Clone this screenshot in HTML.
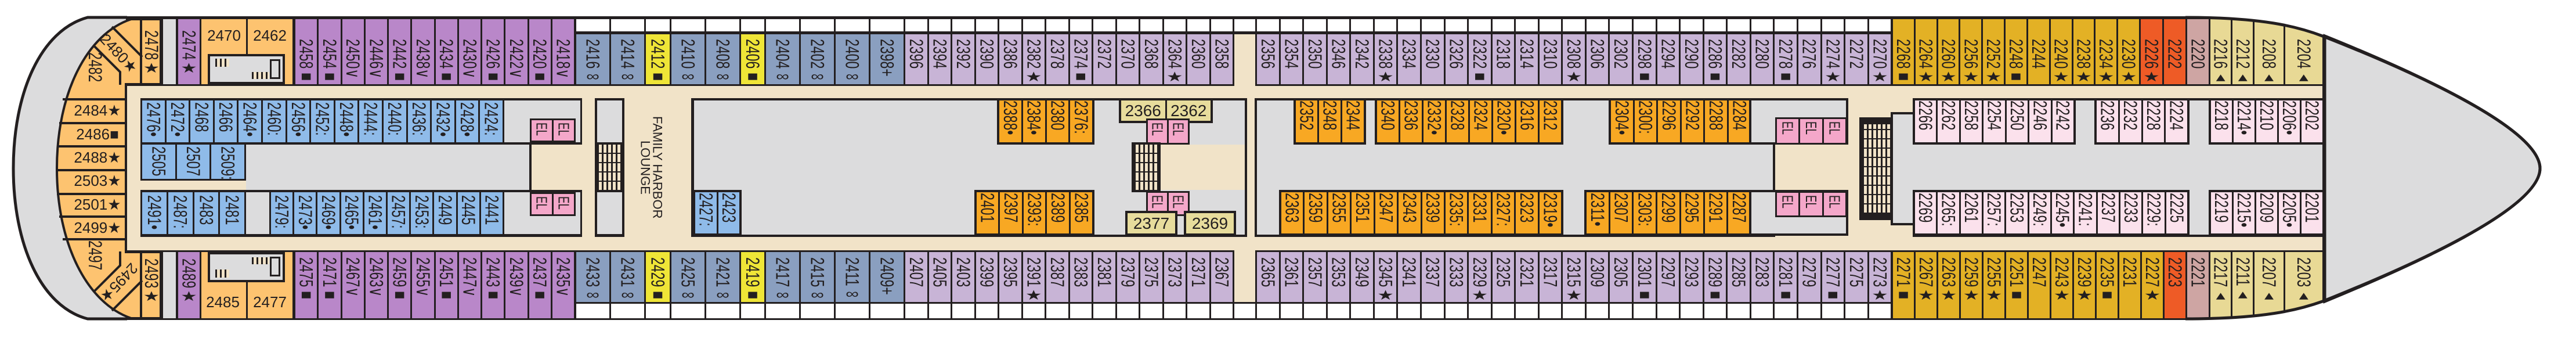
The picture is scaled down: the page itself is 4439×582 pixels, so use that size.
<!DOCTYPE html>
<html><head><meta charset="utf-8"><style>
body{margin:0;width:4439px;height:582px;position:relative;overflow:hidden;background:#fff;font-family:"Liberation Sans","DejaVu Sans",sans-serif;color:#231f20}
.a{position:absolute}
.g{position:absolute;display:flex;gap:3px;box-sizing:border-box;background:#231f20}
.bd{border:4px solid #231f20}
.bd3{border:3px solid #231f20}
.g>i{flex:1;font-style:normal;display:flex;justify-content:center;overflow:hidden;min-width:0}
.g>i>b,.vl>b{writing-mode:vertical-rl;font-weight:400;font-size:32px;line-height:1;margin-top:var(--m,8px);transform:scaleY(.72);transform-origin:top;white-space:nowrap}
.g>i.h{align-items:center;font-size:28px}
.vl{position:absolute;display:flex;justify-content:center}
.hl{position:absolute;font-size:26px;line-height:26px;white-space:nowrap;transform:translate(-50%,-50%)}
.el>i>b{font-size:26px;--m:4px}
.pu>i{background:#b987c9}.bg>i{background:#8a9fc0}.lb>i{background:#8fbbe9}.lv>i{background:#c8b4d6}
.ye>i{background:#efe537}.or>i{background:#f8a823}.go>i{background:#e3b125}.re>i{background:#ee5b26}
.mv>i{background:#cea5a3}.py>i{background:#e8d995}.pk>i{background:#fbe1ec}.el>i{background:#f4a7c9}
.kh>i{background:#e7dc9c}.wh>i{background:#fff}
.be{background:#f1e3c8}.gr{background:#dcdcdd}.bk{background:#231f20}.ao{background:#fdc370}
.st{background:repeating-linear-gradient(0deg,transparent 0 14px,#231f20 14px 16px),repeating-linear-gradient(90deg,#231f20 0 3px,#f1e3c8 3px 8px)}
</style></head><body>
<div class="a bk" style="left:217px;top:28px;width:3791px;height:523px"></div>
<div class="a be" style="left:217px;top:148px;width:3785px;height:21px"></div>
<div class="a be" style="left:217px;top:408px;width:3785px;height:23px"></div>

<div class="a gr" style="left:281px;top:33px;width:22px;height:112px"></div>
<div class="a gr" style="left:281px;top:434px;width:22px;height:114px"></div>
<div class="g pu" style="left:307px;top:33px;width:37px;height:112px;--m:19px"><i><b>2474★</b></i></div>
<div class="g pu" style="left:307px;top:434px;width:37px;height:114px;--m:11px"><i><b>2489★</b></i></div>
<div class="a ao" style="left:347px;top:33px;width:77px;height:112px"></div>
<div class="a ao" style="left:427px;top:33px;width:77px;height:112px"></div>
<div class="a ao" style="left:347px;top:434px;width:77px;height:114px"></div>
<div class="a ao" style="left:427px;top:434px;width:77px;height:114px"></div>
<div class="hl" style="left:386px;top:61px">2470</div>
<div class="hl" style="left:465px;top:61px">2462</div>
<div class="hl" style="left:384px;top:520px">2485</div>
<div class="hl" style="left:465px;top:520px">2477</div>
<div class="a gr" style="left:358px;top:93px;width:133px;height:52px;box-sizing:border-box;border:4px solid #231f20"></div>
<div class="a st" style="left:371px;top:101px;width:24px;height:14px"></div>
<div class="a" style="left:465px;top:102px;width:18px;height:34px;box-sizing:border-box;border:3px solid #231f20"></div>
<div class="a st" style="left:434px;top:124px;width:30px;height:12px"></div>
<div class="a gr" style="left:358px;top:434px;width:133px;height:52px;box-sizing:border-box;border:4px solid #231f20"></div>
<div class="a st" style="left:371px;top:464px;width:24px;height:14px"></div>
<div class="a" style="left:465px;top:442px;width:18px;height:34px;box-sizing:border-box;border:3px solid #231f20"></div>
<div class="a st" style="left:434px;top:443px;width:30px;height:12px"></div>

<div class="g pu" style="left:509px;top:33px;width:480px;height:112px;--m:34px"><i><b>2458■</b></i><i><b>2454■</b></i><i><b>2450∨</b></i><i><b>2446∨</b></i><i><b>2442■</b></i><i><b>2438∨</b></i><i><b>2434■</b></i><i><b>2430∨</b></i><i><b>2426■</b></i><i><b>2422∨</b></i><i><b>2420■</b></i><i><b>2418∨</b></i></div>
<div class="g pu" style="left:509px;top:434px;width:480px;height:114px;--m:9px"><i><b>2475■</b></i><i><b>2471■</b></i><i><b>2467∨</b></i><i><b>2463∨</b></i><i><b>2459■</b></i><i><b>2455∨</b></i><i><b>2451■</b></i><i><b>2447∨</b></i><i><b>2443■</b></i><i><b>2439∨</b></i><i><b>2437■</b></i><i><b>2435∨</b></i></div>

<div class="g wh" style="left:993px;top:33px;width:117px;height:21px"><i></i><i></i></div>
<div class="g wh" style="left:1113px;top:33px;width:41px;height:21px"><i></i></div>
<div class="g wh" style="left:1157px;top:33px;width:117px;height:21px"><i></i><i></i></div>
<div class="g wh" style="left:1277px;top:33px;width:40px;height:21px"><i></i></div>
<div class="g wh" style="left:1320px;top:33px;width:237px;height:21px"><i></i><i></i><i></i><i></i></div>
<div class="g wh" style="left:1560px;top:33px;width:564px;height:21px"><i></i><i></i><i></i><i></i><i></i><i></i><i></i><i></i><i></i><i></i><i></i><i></i><i></i><i></i></div>
<div class="g wh" style="left:2127px;top:33px;width:36px;height:21px"><i></i></div>
<div class="g wh" style="left:2166px;top:33px;width:1092px;height:21px"><i></i><i></i><i></i><i></i><i></i><i></i><i></i><i></i><i></i><i></i><i></i><i></i><i></i><i></i><i></i><i></i><i></i><i></i><i></i><i></i><i></i><i></i><i></i><i></i><i></i><i></i><i></i></div>
<div class="g wh" style="left:993px;top:523px;width:117px;height:25px"><i></i><i></i></div>
<div class="g wh" style="left:1113px;top:523px;width:41px;height:25px"><i></i></div>
<div class="g wh" style="left:1157px;top:523px;width:117px;height:25px"><i></i><i></i></div>
<div class="g wh" style="left:1277px;top:523px;width:40px;height:25px"><i></i></div>
<div class="g wh" style="left:1320px;top:523px;width:237px;height:25px"><i></i><i></i><i></i><i></i></div>
<div class="g wh" style="left:1560px;top:523px;width:564px;height:25px"><i></i><i></i><i></i><i></i><i></i><i></i><i></i><i></i><i></i><i></i><i></i><i></i><i></i><i></i></div>
<div class="g wh" style="left:2127px;top:523px;width:36px;height:25px"><i></i></div>
<div class="g wh" style="left:2166px;top:523px;width:1092px;height:25px"><i></i><i></i><i></i><i></i><i></i><i></i><i></i><i></i><i></i><i></i><i></i><i></i><i></i><i></i><i></i><i></i><i></i><i></i><i></i><i></i><i></i><i></i><i></i><i></i><i></i><i></i><i></i></div>

<div class="g bg" style="left:993px;top:59px;width:117px;height:86px"><i><b>2416∞</b></i><i><b>2414∞</b></i></div>
<div class="g ye" style="left:1113px;top:59px;width:41px;height:86px"><i><b>2412■</b></i></div>
<div class="g bg" style="left:1157px;top:59px;width:117px;height:86px"><i><b>2410∞</b></i><i><b>2408∞</b></i></div>
<div class="g ye" style="left:1277px;top:59px;width:40px;height:86px"><i><b>2406■</b></i></div>
<div class="g bg" style="left:1320px;top:59px;width:237px;height:86px"><i><b>2404∞</b></i><i><b>2402∞</b></i><i><b>2400∞</b></i><i><b>2398+</b></i></div>
<div class="g lv" style="left:1560px;top:59px;width:564px;height:86px"><i><b>2396</b></i><i><b>2394</b></i><i><b>2392</b></i><i><b>2390</b></i><i><b>2386</b></i><i><b>2382★</b></i><i><b>2378</b></i><i><b>2374■</b></i><i><b>2372</b></i><i><b>2370</b></i><i><b>2368</b></i><i><b>2364★</b></i><i><b>2360</b></i><i><b>2358</b></i></div>
<div class="a be" style="left:2127px;top:59px;width:36px;height:89px"></div>
<div class="g lv" style="left:2166px;top:59px;width:1092px;height:86px"><i><b>2356</b></i><i><b>2354</b></i><i><b>2350</b></i><i><b>2346</b></i><i><b>2342</b></i><i><b>2338★</b></i><i><b>2334</b></i><i><b>2330</b></i><i><b>2326</b></i><i><b>2322■</b></i><i><b>2318</b></i><i><b>2314</b></i><i><b>2310</b></i><i><b>2308★</b></i><i><b>2306</b></i><i><b>2302</b></i><i><b>2298■</b></i><i><b>2294</b></i><i><b>2290</b></i><i><b>2286■</b></i><i><b>2282</b></i><i><b>2280</b></i><i><b>2278■</b></i><i><b>2276</b></i><i><b>2274★</b></i><i><b>2272</b></i><i><b>2270★</b></i></div>

<div class="g bg" style="left:993px;top:434px;width:117px;height:86px;--m:9px"><i><b>2433∞</b></i><i><b>2431∞</b></i></div>
<div class="g ye" style="left:1113px;top:434px;width:41px;height:86px;--m:9px"><i><b>2429■</b></i></div>
<div class="g bg" style="left:1157px;top:434px;width:117px;height:86px;--m:9px"><i><b>2425∞</b></i><i><b>2421∞</b></i></div>
<div class="g ye" style="left:1277px;top:434px;width:40px;height:86px;--m:9px"><i><b>2419■</b></i></div>
<div class="g bg" style="left:1320px;top:434px;width:237px;height:86px;--m:9px"><i><b>2417∞</b></i><i><b>2415∞</b></i><i><b>2411∞</b></i><i><b>2409+</b></i></div>
<div class="g lv" style="left:1560px;top:434px;width:564px;height:86px;--m:9px"><i><b>2407</b></i><i><b>2405</b></i><i><b>2403</b></i><i><b>2399</b></i><i><b>2395</b></i><i><b>2391★</b></i><i><b>2387</b></i><i><b>2383</b></i><i><b>2381</b></i><i><b>2379</b></i><i><b>2375</b></i><i><b>2373</b></i><i><b>2371</b></i><i><b>2367</b></i></div>
<div class="a be" style="left:2127px;top:431px;width:36px;height:89px"></div>
<div class="g lv" style="left:2166px;top:434px;width:1092px;height:86px;--m:9px"><i><b>2365</b></i><i><b>2361</b></i><i><b>2357</b></i><i><b>2353</b></i><i><b>2349</b></i><i><b>2345★</b></i><i><b>2341</b></i><i><b>2337</b></i><i><b>2333</b></i><i><b>2329★</b></i><i><b>2325</b></i><i><b>2321</b></i><i><b>2317</b></i><i><b>2315★</b></i><i><b>2309</b></i><i><b>2305</b></i><i><b>2301■</b></i><i><b>2297</b></i><i><b>2293</b></i><i><b>2289■</b></i><i><b>2285</b></i><i><b>2283</b></i><i><b>2281■</b></i><i><b>2279</b></i><i><b>2277■</b></i><i><b>2275</b></i><i><b>2273★</b></i></div>

<div class="g go" style="left:3262px;top:33px;width:424px;height:112px;--m:34px"><i><b>2268■</b></i><i><b>2264★</b></i><i><b>2260★</b></i><i><b>2256★</b></i><i><b>2252★</b></i><i><b>2248■</b></i><i><b>2244</b></i><i><b>2240★</b></i><i><b>2238★</b></i><i><b>2234★</b></i><i><b>2230★</b></i></div>
<div class="g re" style="left:3689px;top:33px;width:77px;height:112px;--m:34px"><i><b>2226★</b></i><i><b>2222</b></i></div>
<div class="g mv" style="left:3769px;top:33px;width:37px;height:112px;--m:34px"><i><b>2220</b></i></div>
<div class="g py" style="left:3809px;top:33px;width:193px;height:112px;--m:34px"><i style="flex:35"><b>2216▴</b></i><i style="flex:35"><b>2212▴</b></i><i style="flex:49"><b>2208▴</b></i><i style="flex:64"><b>2204▴</b></i></div>
<div class="g go" style="left:3262px;top:434px;width:465px;height:114px;--m:9px"><i><b>2271■</b></i><i><b>2267★</b></i><i><b>2263★</b></i><i><b>2259★</b></i><i><b>2255★</b></i><i><b>2251■</b></i><i><b>2247</b></i><i><b>2243★</b></i><i><b>2239★</b></i><i><b>2235■</b></i><i><b>2231</b></i><i><b>2227★</b></i></div>
<div class="g re" style="left:3730px;top:434px;width:36px;height:114px;--m:9px"><i><b>2223</b></i></div>
<div class="g mv" style="left:3769px;top:434px;width:37px;height:114px;--m:9px"><i><b>2221</b></i></div>
<div class="g py" style="left:3809px;top:434px;width:193px;height:114px;--m:9px"><i style="flex:35"><b>2217▴</b></i><i style="flex:35"><b>2211▴</b></i><i style="flex:49"><b>2207▴</b></i><i style="flex:64"><b>2203▴</b></i></div>

<div class="a be" style="left:217px;top:169px;width:25px;height:239px"></div>
<div class="g lb" style="left:245px;top:173px;width:621px;height:72px;--m:3px"><i><b>2476•</b></i><i><b>2472•</b></i><i><b>2468</b></i><i><b>2466</b></i><i><b>2464•</b></i><i><b>2460:</b></i><i><b>2456•</b></i><i><b>2452:</b></i><i><b>2448•</b></i><i><b>2444:</b></i><i><b>2440:</b></i><i><b>2436:</b></i><i><b>2432•</b></i><i><b>2428•</b></i><i><b>2424:</b></i></div>
<div class="a gr" style="left:869px;top:173px;width:131px;height:72px"></div>
<div class="g el bd3" style="left:913px;top:204px;width:79px;height:41px"><i><b>EL</b></i><i><b>EL</b></i></div>
<div class="g lb" style="left:245px;top:249px;width:176px;height:59px;--m:3px"><i><b>2505</b></i><i><b>2507</b></i><i><b>2509:</b></i></div>
<div class="a be" style="left:242px;top:311px;width:182px;height:16px"></div>
<div class="a gr" style="left:424px;top:249px;width:488px;height:78px"></div>
<div class="a be" style="left:916px;top:249px;width:109px;height:78px"></div>
<div class="g lb" style="left:245px;top:331px;width:176px;height:72px;--m:5px"><i><b>2491•</b></i><i><b>2487:</b></i><i><b>2483</b></i><i><b>2481</b></i></div>
<div class="a gr" style="left:424px;top:331px;width:40px;height:72px"></div>
<div class="g lb" style="left:467px;top:331px;width:399px;height:72px;--m:5px"><i><b>2479:</b></i><i><b>2473•</b></i><i><b>2469•</b></i><i><b>2465•</b></i><i><b>2461•</b></i><i><b>2457:</b></i><i><b>2453:</b></i><i><b>2449</b></i><i><b>2445</b></i><i><b>2441</b></i></div>
<div class="a gr" style="left:869px;top:331px;width:131px;height:72px"></div>
<div class="g el bd3" style="left:913px;top:331px;width:79px;height:41px"><i><b>EL</b></i><i><b>EL</b></i></div>
<div class="a be" style="left:1003px;top:169px;width:22px;height:239px"></div>
<div class="a gr" style="left:1029px;top:173px;width:43px;height:72px"></div>
<div class="a st" style="left:1029px;top:249px;width:43px;height:78px"></div>
<div class="a gr" style="left:1029px;top:331px;width:43px;height:72px"></div>
<div class="a be" style="left:1076px;top:169px;width:115px;height:239px"></div>
<div class="a" style="left:1076px;top:169px;width:115px;height:239px;display:flex;align-items:center;justify-content:center"><div style="writing-mode:vertical-rl;font-size:22px;line-height:21px;text-align:center;margin-left:-22px">FAMILY HARBOR<br>LOUNGE</div></div>

<div class="a gr" style="left:1196px;top:173px;width:949px;height:231px"></div>
<div class="g lb bd" style="left:1194px;top:327px;width:84px;height:79px;--m:1px"><i><b>2427:</b></i><i><b>2423</b></i></div>
<div class="g or bd" style="left:1718px;top:169px;width:168px;height:80px;--m:0px"><i><b>2388•</b></i><i><b>2384•</b></i><i><b>2380</b></i><i><b>2376:</b></i></div>
<div class="g or bd" style="left:1679px;top:327px;width:207px;height:79px;--m:1px"><i><b>2401</b></i><i><b>2397</b></i><i><b>2393:</b></i><i><b>2389</b></i><i><b>2385</b></i></div>
<div class="g kh bd" style="left:1928px;top:169px;width:162px;height:43px"><i class="h">2366</i><i class="h">2362</i></div>
<div class="g el bd3" style="left:1975px;top:204px;width:75px;height:45px"><i><b>EL</b></i><i><b>EL</b></i></div>
<div class="a bk" style="left:1950px;top:245px;width:50px;height:86px"></div>
<div class="a st" style="left:1954px;top:249px;width:42px;height:78px"></div>
<div class="a be" style="left:2000px;top:249px;width:145px;height:78px"></div>
<div class="g el bd3" style="left:1975px;top:329px;width:75px;height:43px"><i><b>EL</b></i><i><b>EL</b></i></div>
<div class="g kh bd" style="left:1939px;top:363px;width:90px;height:43px"><i class="h">2377</i></div>
<div class="g kh bd" style="left:2040px;top:363px;width:90px;height:43px"><i class="h">2369</i></div>
<div class="a be" style="left:2149px;top:169px;width:13px;height:239px"></div>

<div class="a be" style="left:3059px;top:169px;width:237px;height:239px"></div>
<div class="a gr" style="left:2166px;top:173px;width:893px;height:231px"></div>
<div class="g or bd" style="left:2229px;top:169px;width:125px;height:80px;--m:0px"><i><b>2352</b></i><i><b>2348</b></i><i><b>2344</b></i></div>
<div class="g or bd" style="left:2369px;top:169px;width:325px;height:80px;--m:0px"><i><b>2340</b></i><i><b>2336</b></i><i><b>2332•</b></i><i><b>2328</b></i><i><b>2324</b></i><i><b>2320•</b></i><i><b>2316</b></i><i><b>2312</b></i></div>
<div class="g or bd" style="left:2772px;top:169px;width:248px;height:80px;--m:0px"><i><b>2304•</b></i><i><b>2300:</b></i><i><b>2296</b></i><i><b>2292</b></i><i><b>2288</b></i><i><b>2284</b></i></div>
<div class="g or bd" style="left:2204px;top:327px;width:490px;height:79px;--m:1px"><i><b>2363</b></i><i><b>2359</b></i><i><b>2355</b></i><i><b>2351</b></i><i><b>2347</b></i><i><b>2343</b></i><i><b>2339</b></i><i><b>2335:</b></i><i><b>2331</b></i><i><b>2327:</b></i><i><b>2323</b></i><i><b>2319•</b></i></div>
<div class="g or bd" style="left:2730px;top:327px;width:290px;height:79px;--m:1px"><i><b>2311•</b></i><i><b>2307</b></i><i><b>2303:</b></i><i><b>2299</b></i><i><b>2295</b></i><i><b>2291</b></i><i><b>2287</b></i></div>
<div class="a bk" style="left:3014px;top:169px;width:171px;height:80px"></div>
<div class="a gr" style="left:3018px;top:173px;width:163px;height:72px"></div>
<div class="g el bd3" style="left:3059px;top:202px;width:124px;height:47px"><i><b>EL</b></i><i><b>EL</b></i><i><b>EL</b></i></div>
<div class="a bk" style="left:3014px;top:327px;width:171px;height:79px"></div>
<div class="a gr" style="left:3018px;top:331px;width:163px;height:71px"></div>
<div class="g el bd3" style="left:3059px;top:329px;width:124px;height:45px"><i><b>EL</b></i><i><b>EL</b></i><i><b>EL</b></i></div>
<div class="a bk" style="left:3055px;top:249px;width:4px;height:78px"></div>
<div class="a bk" style="left:3204px;top:202px;width:58px;height:177px"></div>
<div class="a st" style="left:3209px;top:214px;width:48px;height:152px"></div>
<div class="a bk" style="left:3258px;top:193px;width:40px;height:195px"></div>
<div class="a gr" style="left:3262px;top:197px;width:34px;height:187px"></div>

<div class="a gr" style="left:3296px;top:249px;width:706px;height:78px"></div>
<div class="a gr" style="left:3577px;top:173px;width:32px;height:76px"></div>
<div class="a gr" style="left:3773px;top:173px;width:33px;height:76px"></div>
<div class="a gr" style="left:3773px;top:327px;width:33px;height:77px"></div>
<div class="g pk bd" style="left:3296px;top:169px;width:281px;height:80px;--m:0px"><i><b>2266</b></i><i><b>2262</b></i><i><b>2258</b></i><i><b>2254</b></i><i><b>2250</b></i><i><b>2246</b></i><i><b>2242</b></i></div>
<div class="g pk bd" style="left:3609px;top:169px;width:164px;height:80px;--m:0px"><i><b>2236</b></i><i><b>2232</b></i><i><b>2228</b></i><i><b>2224</b></i></div>
<div class="g pk bd" style="left:3806px;top:169px;width:200px;height:80px;--m:0px"><i><b>2218</b></i><i><b>2214•</b></i><i><b>2210</b></i><i><b>2206•</b></i><i><b>2202</b></i></div>
<div class="g pk bd" style="left:3296px;top:327px;width:477px;height:79px;--m:1px"><i><b>2269</b></i><i><b>2265:</b></i><i><b>2261</b></i><i><b>2257:</b></i><i><b>2253</b></i><i><b>2249:</b></i><i><b>2245•</b></i><i><b>2241:</b></i><i><b>2237</b></i><i><b>2233</b></i><i><b>2229:</b></i><i><b>2225</b></i></div>
<div class="g pk bd" style="left:3806px;top:327px;width:200px;height:79px;--m:1px"><i><b>2219</b></i><i><b>2215•</b></i><i><b>2209</b></i><i><b>2205•</b></i><i><b>2201</b></i></div>

<svg class="a" style="left:0;top:0" width="320" height="582">
<path d="M151,28 C70,50 21,160 21,290 C21,420 70,530 151,551 L217,551 L217,28 Z" fill="#dcdcdd"/>
<path d="M226,33 L277,33 L277,145 L217,145 L217,434 L277,434 L277,548 L226,548 C150,522 98,420 98,290 C98,160 150,58 226,33 Z" fill="#fdc370" stroke="#231f20" stroke-width="4"/>
<path d="M219,30 L151,30 C70,52 23,160 23,290 C23,420 70,528 151,549 L219,549" fill="none" stroke="#231f20" stroke-width="5"/>
<g stroke="#231f20" stroke-width="4" fill="none">
<line x1="108" y1="171" x2="219" y2="171"/>
<line x1="102" y1="212" x2="219" y2="212"/>
<line x1="98" y1="252" x2="219" y2="252"/>
<line x1="97" y1="293" x2="219" y2="293"/>
<line x1="98" y1="334" x2="219" y2="334"/>
<line x1="102" y1="373" x2="219" y2="373"/>
<line x1="108" y1="412" x2="219" y2="412"/>
<line x1="243" y1="33" x2="243" y2="145"/>
<line x1="243" y1="434" x2="243" y2="548"/>
<line x1="193" y1="46" x2="245" y2="98"/>
<polyline points="163,80 207,124 207,146"/>
<line x1="193" y1="535" x2="245" y2="483"/>
<polyline points="163,501 207,457 207,433"/>
</g>
</svg>

<svg class="a" style="left:3700px;top:0" width="739" height="582" viewBox="3700 0 739 582">
<path d="M3766,0 L3766,28 C3900,28 3960,45 4002,61 C4150,120 4377,220 4377,290 L4439,290 L4439,0 Z" fill="#fff"/>
<path d="M3766,582 L3766,551 C3900,551 3960,535 4002,520 C4150,460 4377,360 4377,290 L4439,290 L4439,582 Z" fill="#fff"/>
<path d="M4006,62 C4150,120 4377,220 4377,290 C4377,360 4150,460 4006,519 Z" fill="#dcdcdd" stroke="#231f20" stroke-width="5"/>
<path d="M3766,30 C3900,30 3960,46 4002,62 C4150,120 4377,220 4377,290 C4377,360 4150,460 4002,519 C3960,534 3900,549 3766,549" fill="none" stroke="#231f20" stroke-width="5"/>
</svg>

<div class="vl" style="left:245px;top:33px;width:32px;--m:19px"><b>2478★</b></div>
<div class="vl" style="left:245px;top:434px;width:32px;--m:11px"><b>2493★</b></div>
<div class="vl" style="left:150px;top:90px;width:28px;--m:0px"><b>2482</b></div>
<div class="vl" style="left:150px;top:414px;width:28px;--m:0px"><b>2497</b></div>
<div class="hl" style="left:205px;top:92px;transform:translate(-50%,-50%) rotate(47deg)">2480★</div>
<div class="hl" style="left:205px;top:487px;transform:translate(-50%,-50%) rotate(133deg)">2495★</div>
<div class="hl" style="left:168px;top:190px">2484★</div>
<div class="hl" style="left:168px;top:231px">2486■</div>
<div class="hl" style="left:168px;top:271px">2488★</div>
<div class="hl" style="left:168px;top:311px">2503★</div>
<div class="hl" style="left:168px;top:352px">2501★</div>
<div class="hl" style="left:168px;top:392px">2499★</div>
</body></html>
